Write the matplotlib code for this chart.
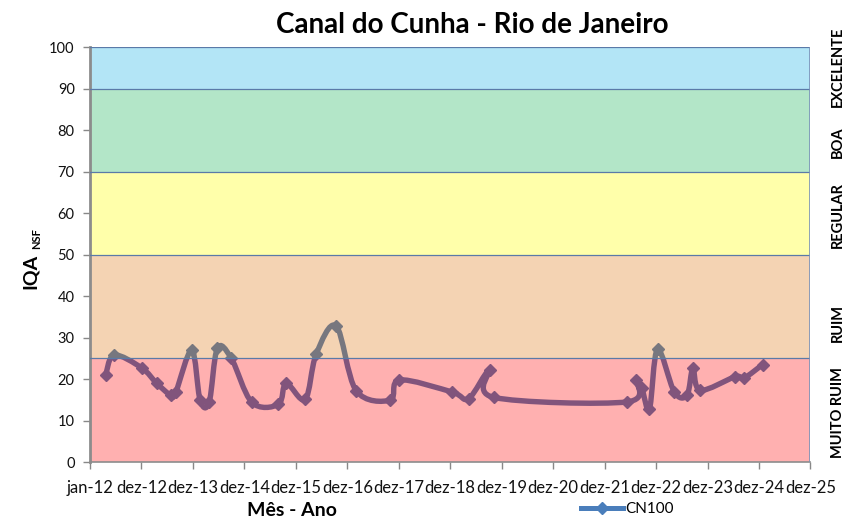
import numpy as np
import matplotlib
matplotlib.use("Agg")
import matplotlib.pyplot as plt
from matplotlib.path import Path
from matplotlib.patches import PathPatch
from matplotlib.lines import Line2D

plt.rcParams['font.family'] = ['Lato', 'DejaVu Sans']

# ---- data ----
dates = ['2012-04-21', '2012-06-21', '2013-01-02', '2013-04-18', '2013-07-27',
         '2013-08-31', '2013-12-23', '2014-02-20', '2014-04-25', '2014-06-22',
         '2014-09-28', '2015-02-22', '2015-08-29', '2015-10-23', '2016-03-06',
         '2016-05-23', '2016-10-12', '2017-03-03', '2017-10-30', '2018-01-04',
         '2019-01-11', '2019-05-09', '2019-10-05', '2019-11-02', '2022-06-05',
         '2022-08-10', '2022-09-19', '2022-11-12', '2023-01-08', '2023-05-07',
         '2023-08-05', '2023-09-16', '2023-11-07', '2024-07-13', '2024-09-10',
         '2025-01-22']
iqa = [21.0, 25.8, 22.7, 19.0, 16.1,
       16.8, 27.0, 14.9, 14.4, 27.4,
       25.1, 14.4, 13.9, 19.0, 15.1,
       26.0, 32.8, 17.2, 14.9, 19.8,
       16.9, 15.3, 22.2, 15.6, 14.5,
       19.9, 17.8, 12.8, 27.2, 16.9,
       16.1, 22.6, 17.3, 20.6, 20.2,
       23.5]
series_name = 'CN100'
x_tick_labels = ['jan-12', 'dez-12', 'dez-13', 'dez-14', 'dez-15', 'dez-16', 'dez-17',
                 'dez-18', 'dez-19', 'dez-20', 'dez-21', 'dez-22', 'dez-23', 'dez-24', 'dez-25']
band_limits = [0, 25, 50, 70, 90, 100]
band_names = ['MUITO RUIM', 'RUIM', 'REGULAR', 'BOA', 'EXCELENTE']
# displayed band colours
band_display = [(255, 176, 176), (245, 211, 179), (255, 255, 170), (179, 230, 200), (179, 229, 247)]

start = np.datetime64('2012-01-01')
xd = (np.array(dates, dtype='datetime64[D]') - start).astype(float)
yd = np.array(iqa)

line_color = '#4a7ebb'
ALPHA = 0.35

fig = plt.figure(figsize=(8.45, 5.2), dpi=100)
ax = fig.add_axes([90 / 845, 58 / 520, 720.5 / 845, 414.5 / 520])

# smoothed line (Catmull-Rom -> cubic Bezier, like Excel smoothing)
pts = np.column_stack([xd, yd])
verts = [pts[0]]
codes = [Path.MOVETO]
n = len(pts)
for i in range(n - 1):
    p0 = pts[i - 1] if i > 0 else pts[i]
    p1 = pts[i]
    p2 = pts[i + 1]
    p3 = pts[i + 2] if i + 2 < n else pts[i + 1]
    c1 = p1 + (p2 - p0) / 6.0
    c2 = p2 - (p3 - p1) / 6.0
    verts += [c1, c2, p2]
    codes += [Path.CURVE4] * 3
ax.add_patch(PathPatch(Path(verts, codes), facecolor='none', edgecolor='#3f72b0',
                       lw=3.9, capstyle='round', joinstyle='round', zorder=1))
ax.plot(xd, yd, linestyle='none', marker='D', ms=6.5, color='#3f72b0', zorder=1)

# bands drawn semi-transparent over the line
for (lo, hi), d in zip(zip(band_limits[:-1], band_limits[1:]), band_display):
    c = [min(1, max(0, (v / 255 - (1 - ALPHA)) / ALPHA)) for v in d]
    ax.axhspan(lo, hi, facecolor=c, alpha=ALPHA, edgecolor='none', zorder=2)
for b in band_limits[1:]:
    ax.axhline(b, color='#5a7aa8', lw=0.9, zorder=3)
ax.axvline(5110, color='#7a92b8', lw=1.2, zorder=3)

ax.set_xlim(0, 5110)
ax.set_ylim(0, 100)
ax.set_yticks(range(0, 101, 10))
ax.set_xticks(np.arange(0, 5111, 365))
ax.set_xticklabels(x_tick_labels)
ax.tick_params(axis='both', direction='out', length=5, width=1, color='#888888',
               labelsize=10.5, labelcolor='#111111', pad=6)
ax.tick_params(axis='x', pad=8, labelsize=12)
for s in ['top', 'right']:
    ax.spines[s].set_visible(False)
ax.spines['left'].set_color('#8c8c8c')
ax.spines['left'].set_linewidth(2)
ax.spines['bottom'].set_color('#8c8c8c')
ax.spines['bottom'].set_linewidth(1.2)

fig.text(472 / 845, 1 - 25 / 520, 'Canal do Cunha - Rio de Janeiro', ha='center', va='center',
         fontsize=20, fontweight='bold')
fig.text(292 / 845, 1 - 510 / 520, 'Mês - Ano', ha='center', va='center',
         fontsize=14, fontweight='bold')
fig.text(30 / 845, 1 - 271 / 520, 'IQA', ha='center', va='center', rotation=90,
         fontsize=14, fontweight='bold')
fig.text(37 / 845, 1 - 239 / 520, 'NSF', ha='center', va='center', rotation=90,
         fontsize=8, fontweight='bold')

label_y = [413, 323, 215, 142, 67]
for name, yy in zip(band_names, label_y):
    fig.text(838 / 845, 1 - yy / 520, name, ha='center', va='center', rotation=90,
             fontsize=10.5, fontweight='bold')

handle = Line2D([], [], color=line_color, lw=3.6, marker='D', ms=6)
fig.legend([handle], [series_name], loc='center left', bbox_to_anchor=(573 / 845, 1 - 509 / 520),
           frameon=False, fontsize=11, handlelength=2.8, handletextpad=0.1, borderpad=0)

fig.savefig('out.png', dpi=100)
